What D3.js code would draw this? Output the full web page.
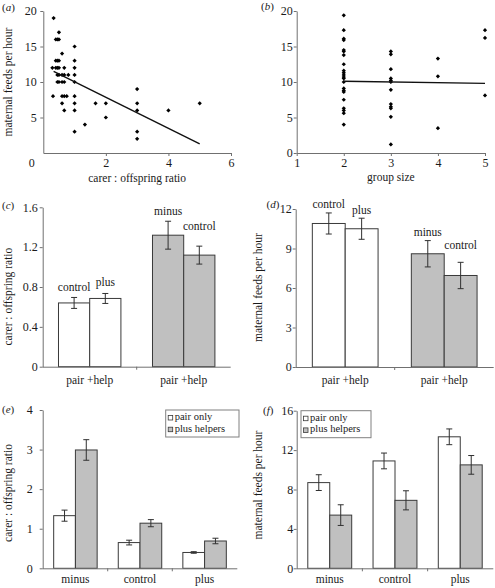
<!DOCTYPE html>
<html><head><meta charset="utf-8">
<script src="https://cdn.jsdelivr.net/npm/d3@7"></script>
<style>
body{margin:0;background:#fff}
svg{display:block}
svg text{font-family:"Liberation Serif","Tinos","Times New Roman","DejaVu Serif",serif;}
</style>
</head><body>
<svg id="chart" width="495" height="588"></svg>
<script>
// ---------------- DATA ----------------
// (a) maternal feeds vs carer:offspring ratio
const ratioA = [0.33,0.5,0.4,0.45,0.5,0.6,1,0.4,0.45,0.5,1,
  0.29,0.4,0.45,0.5,0.67,1,
  0.45,0.5,0.6,0.67,0.8,1,
  0.45,0.5,0.6,0.67,1,
  3,
  0.31,0.6,0.67,0.75,1,
  0.6,1,1.67,2,3,5,
  0.67,1,3,4,
  2,1.33,1,3,3];
const feedsA = [19,17,16,16,16,14,15,13,13,13,13,
  12,12,12,12,12,12,
  11,11,11,11,11,11,
  10,10,10,10,10,
  9,
  8,8,8,8,8,
  7,7,7,7,7,7,
  6,6,6,6,
  5,4,3,3,2];
const fitA = [[0.33,11.5],[5,1.3]];
const xTicksA = [2,4,6];
const yTicksA = [5,10,15,20];

// (b) maternal feeds vs group size
const groupB = [2,2,2,2,2,2,2,2,2,2,2,2,2,2,2,2,2,2,2,2,2,2,
  3,3,3,3,3,3,3,3,3,3,3,3,
  4,4,4,
  5,5,5];
const feedsB = [19.4,17.3,16.1,15.9,14.5,14.3,13.8,12.5,11.6,11.3,11.0,10.7,10.5,10.0,9.1,8.8,8.6,7.5,6.3,6.0,5.6,4.0,
  14.3,13.9,11.8,10.5,10.2,10.0,8.9,6.9,6.5,6.3,5.1,1.2,
  13.3,10.8,3.5,
  17.3,16.2,8.1];
const fitB = [[2,10.1],[5,9.8]];
const xTicksB = [1,2,3,4,5];
const yTicksB = [0,5,10,15,20];

// (c), (d)
const groupLabelsCD = ["pair +help","pair +help"];
const barLabelsCD = ["control","plus","minus","control"];
const barGroupCD = [0,0,1,1];
const barShadedCD = [false,false,true,true];
const ratioC = [0.64,0.685,1.32,1.12];
const ratioErrC = [0.055,0.05,0.14,0.09];
const yTicksC = [0,0.4,0.8,1.2,1.6];
const feedsD = [10.9,10.5,8.6,6.95];
const feedsErrD = [0.8,0.8,1.0,1.0];
const yTicksD = [0,3,6,9,12];

// (e), (f)
const treatments = ["minus","control","plus"];
const seriesNames = ["pair only","plus helpers"];
const ratioPairE = [1.33,0.65,0.40];
const ratioPairErrE = [0.14,0.06,0.02];
const ratioHelpE = [2.99,1.14,0.69];
const ratioHelpErrE = [0.26,0.09,0.07];
const yTicksE = [0,1,2,3,4];
const feedsPairF = [8.7,10.9,13.35];
const feedsPairErrF = [0.8,0.8,0.8];
const feedsHelpF = [5.4,6.9,10.5];
const feedsHelpErrF = [1.05,0.97,0.95];
const yTicksF = [0,4,8,12,16];

// ---------------- STYLE ----------------
const FS = 11.5;
const TFS = 12;
const AX = "#707070";
const TXT = "#1a1a1a";
const GREY = "#c0c0c0";
const BSTROKE = "#3a3a3a";
const svg = d3.select("#chart");

function styleAxis(g){
  g.attr("font-family",null).attr("font-size",null);
  g.select(".domain").attr("stroke", AX).attr("stroke-width",1);
  g.selectAll(".tick line").attr("stroke", AX);
  g.selectAll("text").attr("font-size",TFS).attr("fill",TXT);
}
function yAxis(x0, y, ticks, pad, fmt){
  const g = svg.append("g").attr("transform",`translate(${x0},0)`)
    .call(d3.axisLeft(y).tickValues(ticks).tickSize(3).tickSizeOuter(0).tickPadding(pad).tickFormat(fmt || (d=>d)));
  styleAxis(g); return g;
}
function xAxisLinear(y0, x, ticks, pad){
  const g = svg.append("g").attr("transform",`translate(0,${y0})`)
    .call(d3.axisBottom(x).tickValues(ticks).tickSize(3).tickSizeOuter(0).tickPadding(pad).tickFormat(d=>d));
  styleAxis(g); return g;
}
function xAxisBand(y0, xb, labels, pad, r){
  const g = svg.append("g").attr("transform",`translate(0,${y0})`)
    .call(d3.axisBottom(xb).tickSize(0).tickPadding(pad).tickFormat(i=>labels[i]));
  styleAxis(g);
  g.selectAll("text").attr("font-size",FS);
  g.select(".domain").attr("d",`M${r[0]},0.5H${r[1]}`);
  const dom = xb.domain();
  for(let k=0;k<dom.length-1;k++){
    const bx = (xb(dom[k])+xb.bandwidth()+xb(dom[k+1]))/2;
    g.append("line").attr("x1",bx).attr("x2",bx).attr("y1",0).attr("y2",3).attr("stroke",AX);
  }
  return g;
}
function panelLabel(x, y, letter){
  const t = svg.append("text").attr("x",x).attr("y",y).attr("font-size",11).attr("fill",TXT);
  t.append("tspan").text("(");
  t.append("tspan").attr("font-style","italic").text(letter);
  t.append("tspan").text(")");
}
function yTitle(x, y, txt){
  svg.append("text").attr("transform",`translate(${x},${y}) rotate(-90)`).attr("text-anchor","middle")
    .attr("font-size",FS).attr("fill",TXT).text(txt);
}
function xTitle(x, y, txt){
  svg.append("text").attr("x",x).attr("y",y).attr("text-anchor","middle")
    .attr("font-size",FS).attr("fill",TXT).text(txt);
}
function errBar(x, y, v, e){
  const g = svg.append("g").attr("stroke","#303030").attr("stroke-width",1);
  g.append("line").attr("x1",x).attr("x2",x).attr("y1",y(v-e)).attr("y2",y(v+e));
  g.append("line").attr("x1",x-3).attr("x2",x+3).attr("y1",y(v-e)).attr("y2",y(v-e));
  g.append("line").attr("x1",x-3).attr("x2",x+3).attr("y1",y(v+e)).attr("y2",y(v+e));
}
const diamond = d3.symbol(d3.symbolSquare, 9);

// ---------------- (a) ----------------
{
  const x = d3.scaleLinear().domain([0,6]).range([43.3,231]);
  const y = d3.scaleLinear().domain([0,20]).range([153,11]);
  yAxis(x(0), y, yTicksA, 3.6);
  xAxisLinear(y(0), x, xTicksA, 2.5);
  svg.append("text").attr("x",x(0)-11.6).attr("y",167).attr("text-anchor","middle")
    .attr("font-size",TFS).attr("fill",TXT).text("0");
  svg.append("g").selectAll("path").data(d3.range(ratioA.length)).join("path")
    .attr("d",diamond).attr("fill","#000")
    .attr("transform",i=>`translate(${x(ratioA[i])},${y(feedsA[i])}) rotate(45)`);
  svg.append("path").datum(fitA).attr("fill","none").attr("stroke","#111").attr("stroke-width",1.4)
    .attr("d",d3.line().x(d=>x(d[0])).y(d=>y(d[1])));
  panelLabel(2,10.5,"a");
  yTitle(11.5,82,"maternal feeds per hour");
  xTitle((x.range()[0]+x.range()[1])/2,182,"carer : offspring ratio");
}
// ---------------- (b) ----------------
{
  const x = d3.scaleLinear().domain([1,5]).range([296.7,485]);
  const y = d3.scaleLinear().domain([0,20]).range([153,11]);
  yAxis(x(1), y, yTicksB, 1);
  xAxisLinear(y(0), x, xTicksB, 2.5);
  svg.append("g").selectAll("path").data(d3.range(groupB.length)).join("path")
    .attr("d",diamond).attr("fill","#000")
    .attr("transform",i=>`translate(${x(groupB[i])},${y(feedsB[i])}) rotate(45)`);
  svg.append("path").datum(fitB).attr("fill","none").attr("stroke","#111").attr("stroke-width",1.4)
    .attr("d",d3.line().x(d=>x(d[0])).y(d=>y(d[1])));
  panelLabel(261,9.5,"b");
  xTitle((x.range()[0]+x.range()[1])/2,181,"group size");
}
// ---------------- (c) & (d) ----------------
function panelCD(r, yr, domainMax, ticks, vals, errs, pad, fmt, labelDy, ytPos, title, letterPos, letter){
  const xb = d3.scaleBand().domain([0,1]).range(r).paddingInner(0.336).paddingOuter(0.168);
  const xi = d3.scaleBand().domain([0,1]).range([0,xb.bandwidth()]);
  const y = d3.scaleLinear().domain([0,domainMax]).range(yr);
  vals.forEach((v,i)=>{
    const bx = xb(barGroupCD[i]) + xi(i%2);
    svg.append("rect").attr("x",bx).attr("y",y(v)).attr("width",xi.bandwidth()).attr("height",y(0)-y(v))
      .attr("fill",barShadedCD[i]?GREY:"#fff").attr("stroke",BSTROKE).attr("stroke-width",1);
    errBar(bx+xi.bandwidth()/2, y, v, errs[i]);
    svg.append("text").attr("x",bx+xi.bandwidth()/2).attr("y",y(v+errs[i])+labelDy[i]).attr("text-anchor","middle")
      .attr("font-size",FS).attr("fill",TXT).text(barLabelsCD[i]);
  });
  yAxis(r[0], y, ticks, pad, fmt);
  xAxisBand(y(0), xb, groupLabelsCD, 9, r);
  yTitle(ytPos[0], ytPos[1], title);
  panelLabel(letterPos[0], letterPos[1], letter);
}
panelCD([42.7,230.7],[366.7,207.3],1.6,yTicksC,ratioC,ratioErrC,2,d=>d===0?"0":d.toFixed(1),
  [-6,-7,-6,-16],[11.5,296.6],"carer : offspring ratio",[2,209],"c");
panelCD([295.7,493.7],[367,209],12,yTicksD,feedsD,feedsErrD,1,d=>d,
  [-5,-4,-5,-13],[261.5,287.5],"maternal feeds per hour",[266.5,208],"d");

// ---------------- (e) & (f) ----------------
function panelEF(r, yr, domainMax, ticks, pairV, pairE, helpV, helpE, pad, ytPos, title, letterPos, letter, legX){
  const xb = d3.scaleBand().domain([0,1,2]).range(r).paddingInner(0.327).paddingOuter(0.17);
  const xi = d3.scaleBand().domain([0,1]).range([0,xb.bandwidth()]);
  const y = d3.scaleLinear().domain([0,domainMax]).range(yr);
  const series = [[pairV,pairE,"#fff"],[helpV,helpE,GREY]];
  treatments.forEach((t,c)=>{
    series.forEach((s,k)=>{
      const bx = xb(c)+xi(k);
      svg.append("rect").attr("x",bx).attr("y",y(s[0][c])).attr("width",xi.bandwidth()).attr("height",y(0)-y(s[0][c]))
        .attr("fill",s[2]).attr("stroke",BSTROKE).attr("stroke-width",1);
      errBar(bx+xi.bandwidth()/2, y, s[0][c], s[1][c]);
    });
  });
  yAxis(r[0], y, ticks, pad);
  xAxisBand(y(0), xb, treatments, 6.5, r);
  yTitle(ytPos[0], ytPos[1], title);
  panelLabel(letterPos[0], letterPos[1], letter);
  const top = y(domainMax);
  const lg = svg.append("g");
  lg.append("rect").attr("x",legX[0]).attr("y",top).attr("width",legX[1]-legX[0]).attr("height",27)
    .attr("fill","#fff").attr("stroke","#808080").attr("stroke-width",1);
  seriesNames.forEach((n,k)=>{
    const by = top + 10 + k*11.7;
    lg.append("rect").attr("x",legX[0]+2.5).attr("y",by-4.5).attr("width",4.5).attr("height",4.5)
      .attr("fill",series[k][2]).attr("stroke",BSTROKE).attr("stroke-width",0.8);
    lg.append("text").attr("x",legX[0]+9).attr("y",by).attr("font-size",10.5)
      .attr("fill",TXT).text(n);
  });
}
panelEF([42.7,237.3],[568.3,410],4,yTicksE,ratioPairE,ratioPairErrE,ratioHelpE,ratioHelpErrE,7,
  [12,493],"carer : offspring ratio",[2,413],"e",[165.7,239]);
panelEF([296.7,493.3],[568.3,410.7],16,yTicksF,feedsPairF,feedsPairErrF,feedsHelpF,feedsHelpErrF,0.5,
  [262,485],"maternal feeds per hour",[263,414],"f",[301,371]);
</script>
</body></html>
